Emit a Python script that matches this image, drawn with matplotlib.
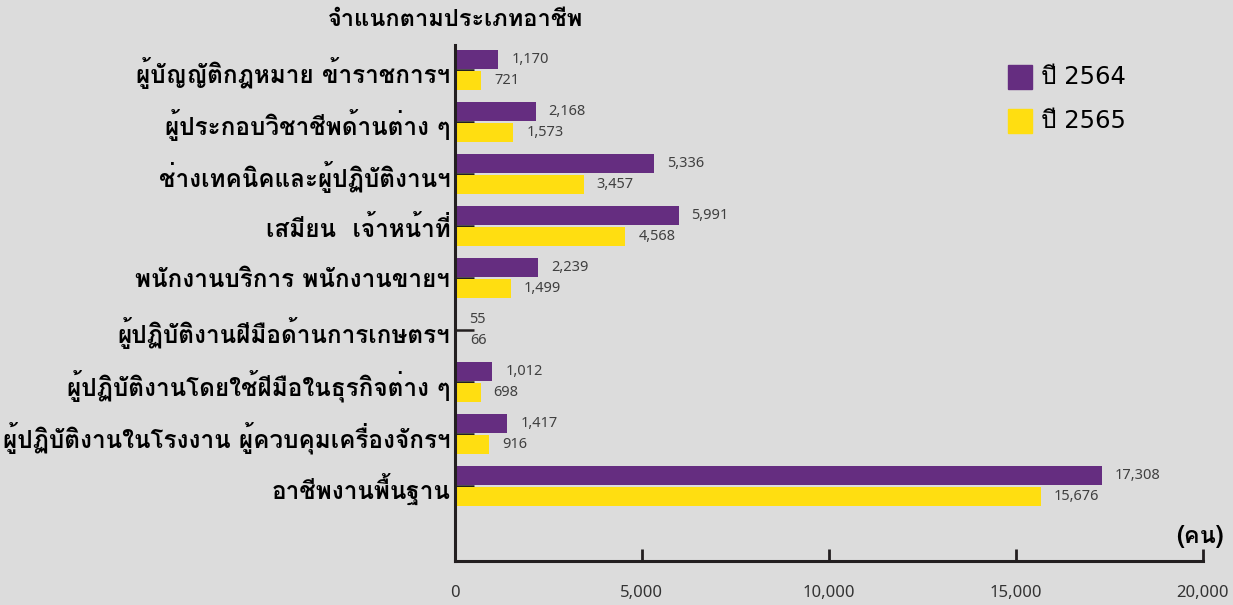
import matplotlib
matplotlib.use("Agg")
import matplotlib.pyplot as plt
import numpy as np
from matplotlib.patches import Rectangle

# ข้อมูล: จำนวนคนจำแนกตามประเภทอาชีพ
categories = [
    "ผู้บัญญัติกฎหมาย ข้าราชการฯ",
    "ผู้ประกอบวิชาชีพด้านต่าง ๆ",
    "ช่างเทคนิคและผู้ปฏิบัติงานฯ",
    "เสมียน  เจ้าหน้าที่",
    "พนักงานบริการ พนักงานขายฯ",
    "ผู้ปฏิบัติงานฝีมือด้านการเกษตรฯ",
    "ผู้ปฏิบัติงานโดยใช้ฝีมือในธุรกิจต่าง ๆ",
    "ผู้ปฏิบัติงานในโรงงาน ผู้ควบคุมเครื่องจักรฯ",
    "อาชีพงานพื้นฐาน",
]
y2564 = [1170, 2168, 5336, 5991, 2239, 55, 1012, 1417, 17308]
y2565 = [721, 1573, 3457, 4568, 1499, 66, 698, 916, 15676]
years = ["ปี 2564", "ปี 2565"]
xticks = [0, 5000, 10000, 15000, 20000]

purple = "#652d80"
yellow = "#ffde11"
bg = "#dcdcdc"
thai = "Loma"

fig = plt.figure(figsize=(12.33, 6.05), dpi=100, facecolor=bg)
ax = fig.add_axes([454.5/1233, 44/605, 748/1233, 516/605], facecolor=bg)

pos = np.arange(len(categories))
h = 0.365
ax.barh(pos - 0.2, y2564, height=h, color=purple, zorder=2)
ax.barh(pos + 0.2, y2565, height=h, color=yellow, zorder=2)

for i in range(len(categories)):
    ax.annotate(f"{y2564[i]:,}", (y2564[i], pos[i] - 0.2), xytext=(13, 0),
                textcoords="offset pixels", va="center", ha="left",
                fontsize=10.5, color="#404040", family="Noto Sans")
    ax.annotate(f"{y2565[i]:,}", (y2565[i], pos[i] + 0.2), xytext=(13, 0),
                textcoords="offset pixels", va="center", ha="left",
                fontsize=10.5, color="#404040", family="Noto Sans")

ax.set_xlim(0, 20000)
ax.set_ylim(9.44, -0.48)
ax.set_yticks(pos)
ax.set_yticklabels(categories, family=thai, fontweight="bold", fontsize=17.5)
ax.set_xticks(xticks)
ax.set_xticklabels([f"{v:,}" for v in xticks], family="Noto Sans", fontsize=12, color="#333333")

ax.tick_params(axis="y", direction="in", length=14, width=1.8, color="#231f20", pad=3)
ax.tick_params(axis="x", direction="in", length=9, width=2, color="#231f20", pad=17.5)

for s in ["top", "right"]:
    ax.spines[s].set_visible(False)
for s in ["left", "bottom"]:
    ax.spines[s].set_linewidth(2.2)
    ax.spines[s].set_color("#231f20")

fig.text(455/1233, 1 - 20/605, "จำแนกตามประเภทอาชีพ", family=thai, fontweight="bold",
         fontsize=17, ha="center", va="center")
fig.text(1224/1233, 1 - 536/605, "(คน)", family=thai, fontweight="bold",
         fontsize=17, ha="right", va="center")

# legend drawn by hand
for j, (lab, c) in enumerate(zip(years, [purple, yellow])):
    yc = 77 + 44 * j
    fig.patches.append(Rectangle((1008/1233, 1 - (yc + 12)/605), 24/1233, 24/605,
                                 transform=fig.transFigure, color=c, figure=fig))
    fig.text(1041/1233, 1 - yc/605, lab, family=["DejaVu Sans", thai], fontsize=17.5,
             ha="left", va="center")

fig.savefig("out.png", dpi=100, facecolor=bg)
